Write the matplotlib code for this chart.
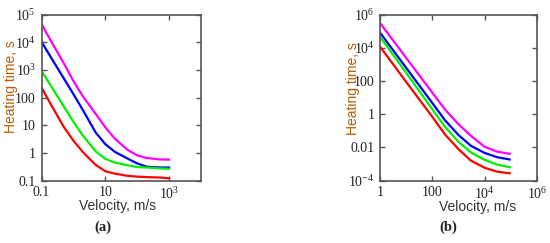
import matplotlib
matplotlib.use('Agg')
import matplotlib.pyplot as plt

# panel (a)
vel_a = [0.1, 0.2, 0.5, 1, 2, 5, 10, 20, 50, 100, 200, 500, 1000]
mag_a = [46000, 11000, 1750, 400, 110, 26, 8.5, 3.3, 1.3, 0.82, 0.66, 0.59, 0.58]
blue_a = [10500, 2800, 500, 135, 35, 5.5, 2.1, 1.1, 0.63, 0.42, 0.32, 0.30, 0.30]
green_a = [930, 263, 48, 13.5, 4.2, 1.15, 0.62, 0.45, 0.36, 0.31, 0.30, 0.28, 0.27]
red_a = [235, 55, 8.8, 2.8, 1.07, 0.37, 0.22, 0.18, 0.15, 0.14, 0.135, 0.13, 0.123]

# panel (b)
vel_b = [1, 10, 100, 300, 1000, 3000, 10000, 30000, 90000]
mag_b = [3.2e5, 2500, 20, 2.0, 0.25, 0.05, 0.011, 0.0056, 0.0042]
blue_b = [8.3e4, 630, 4.8, 0.45, 0.056, 0.0126, 0.0047, 0.0026, 0.0019]
green_b = [4.7e4, 316, 2.0, 0.18, 0.022, 0.005, 0.0018, 9.3e-4, 6.5e-4]
red_b = [1.2e4, 89, 0.7, 0.063, 0.0079, 0.0016, 6e-4, 3.5e-4, 2.8e-4]

xt_a = [0.1, 10, 1000]
xl_a = ['0.1', '10', r'$\mathregular{10^3}$']
yt_a = [0.1, 1, 10, 100, 1e3, 1e4, 1e5]
yl_a = ['0.1', '1', '10', '100', r'$\mathregular{10^3}$', r'$\mathregular{10^4}$',
        r'$\mathregular{10^5}$']
xt_b = [1, 100, 1e4, 1e6]
xl_b = ['1', '100', r'$\mathregular{10^4}$', r'$\mathregular{10^6}$']
yt_b = [1e-4, 0.01, 1, 100, 1e4, 1e6]
yl_b = [r'$\mathregular{10^{-4}}$', '0.01', '1', '100', r'$\mathregular{10^4}$',
        r'$\mathregular{10^6}$']

colors = ['#ff00ff', '#0000ff', '#00ee00', '#ff0000']

plt.rcParams['font.family'] = 'Liberation Serif'
W, H = 550, 243
fig = plt.figure(figsize=(5.5, 2.43), dpi=100)


def setup(ax, xlim, ylim, xt, xl, yt, yl):
    ax.set_xscale('log')
    ax.set_yscale('log')
    ax.set_xlim(xlim)
    ax.set_ylim(ylim)
    ax.set_xticks(xt)
    ax.set_xticklabels(xl)
    ax.set_yticks(yt)
    ax.set_yticklabels(yl)
    ax.minorticks_off()
    ax.tick_params(direction='in', length=3.6, width=1, color='#555555',
                   top=True, right=True, labelsize=10, labelcolor='#222222', pad=4)
    for s in ax.spines.values():
        s.set_color('#555555')
        s.set_linewidth(1.2)


ax1 = fig.add_axes([41.5 / W, 1 - 180.7 / H, 159.5 / W, 166 / H])
for ys, c in zip([mag_a, blue_a, green_a, red_a], colors):
    ax1.plot(vel_a, ys, color=c, lw=1.6)
setup(ax1, (0.1, 1e4), (0.1, 1e5), xt_a, xl_a, yt_a, yl_a)

ax2 = fig.add_axes([380 / W, 1 - 180.7 / H, 157 / W, 166 / H])
for ys, c in zip([mag_b, blue_b, green_b, red_b], colors):
    ax2.plot(vel_b, ys, color=c, lw=1.6)
setup(ax2, (1, 1e6), (1e-4, 1e6), xt_b, xl_b, yt_b, yl_b)

lab = dict(family='Liberation Sans', fontsize=10)
fig.text(117.5 / W, 1 - 206 / H, 'Velocity, m/s', ha='center', va='center',
         color='#333333', **lab)
fig.text(477.5 / W, 1 - 206.5 / H, 'Velocity, m/s', ha='center', va='center',
         color='#333333', **lab)
fig.text(11 / W, 1 - 87 / H, 'Heating time, s', ha='center', va='center',
         rotation=90, color='#b85c00', **lab)
fig.text(352.5 / W, 1 - 88.5 / H, 'Heating time, s', ha='center', va='center',
         rotation=90, color='#b85c00', **lab)

fig.text(103 / W, 1 - 227 / H, '(a)', ha='center', va='center',
         fontsize=10.5, fontweight='bold', color='#222222')
fig.text(448 / W, 1 - 227 / H, '(b)', ha='center', va='center',
         fontsize=10.5, fontweight='bold', color='#222222')

fig.savefig('out.png', dpi=100)
